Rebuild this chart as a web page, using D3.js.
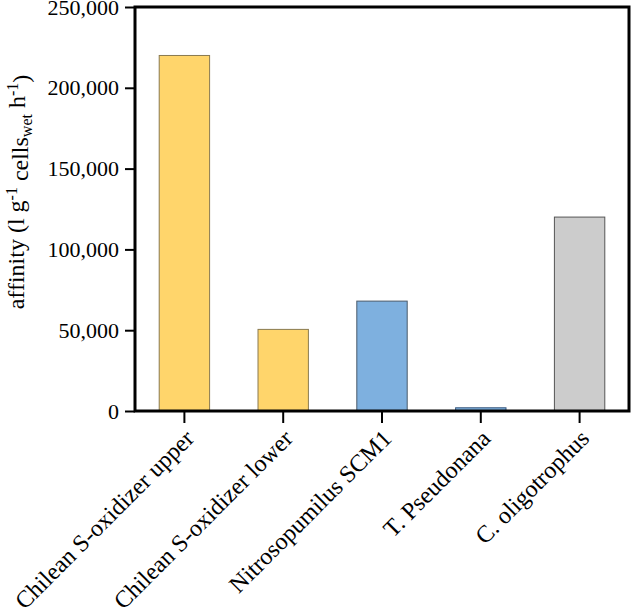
<!DOCTYPE html>
<html>
<head>
<meta charset="utf-8">
<script src="https://cdn.jsdelivr.net/npm/d3@7"></script>
<style>
  html, body { margin: 0; padding: 0; background: #fff; }
  svg { display: block; }
  text { font-family: "Liberation Serif", "Times New Roman", serif; fill: #000; }
</style>
</head>
<body>
<svg id="chart" width="633" height="609"></svg>
<script>
const categories = ["Chilean S-oxidizer upper", "Chilean S-oxidizer lower", "Nitrosopumilus SCM1", "T. Pseudonana", "C. oligotrophus"];
const values = [220000, 50500, 68000, 2000, 120000];
const fills = ["#FFD56B", "#FFD56B", "#7EB0DF", "#7EB0DF", "#CCCCCC"];
const strokes = ["#8a7a50", "#8a7a50", "#4a5a6a", "#3a5a80", "#555555"];
const yTicks = [0, 50000, 100000, 150000, 200000, 250000];

const svg = d3.select("#chart");
const m = { left: 135, right: 629, top: 7, bottom: 411 };

const x = d3.scaleBand().domain(categories).range([m.left, m.right]).paddingInner(0.49).paddingOuter(0.245);
const y = d3.scaleLinear().domain([0, 250000]).range([m.bottom, m.top]);

// bars
svg.append("g").selectAll("rect").data(categories).join("rect")
  .attr("x", d => x(d))
  .attr("width", x.bandwidth())
  .attr("y", (d, i) => y(values[i]))
  .attr("height", (d, i) => y(0) - y(values[i]))
  .attr("fill", (d, i) => fills[i])
  .attr("stroke", (d, i) => strokes[i])
  .attr("stroke-width", 1);

// frame
svg.append("rect")
  .attr("x", m.left).attr("y", m.top)
  .attr("width", m.right - m.left).attr("height", m.bottom - m.top)
  .attr("fill", "none").attr("stroke", "#000").attr("stroke-width", 3);

// y axis
const yAxis = d3.axisLeft(y).tickValues(yTicks).tickSize(10).tickPadding(6)
  .tickFormat(d3.format(","));
const gy = svg.append("g").attr("transform", `translate(${m.left},0)`).call(yAxis);
gy.select(".domain").remove();
gy.selectAll(".tick line").attr("stroke", "#000").attr("stroke-width", 2);
gy.selectAll(".tick text").style("font-size", "22px").style("font-family", "Liberation Serif, serif");

// x axis
const xAxis = d3.axisBottom(x).tickSize(12).tickFormat("");
const gx = svg.append("g").attr("transform", `translate(0,${m.bottom})`).call(xAxis);
gx.select(".domain").remove();
gx.selectAll(".tick line").attr("stroke", "#000").attr("stroke-width", 2);

// x labels
svg.append("g").selectAll("text").data(categories).join("text")
  .attr("transform", d => `translate(${x(d) + x.bandwidth() / 2 + 5},${m.bottom + 23}) rotate(-45)`)
  .attr("text-anchor", "end")
  .attr("dy", "0.35em")
  .style("font-size", "24px")
  .text(d => d);

// y label
const yl = svg.append("text")
  .attr("transform", "translate(24,192) rotate(-90)")
  .attr("text-anchor", "middle")
  .style("font-size", "24px");
yl.append("tspan").text("affinity (l g");
yl.append("tspan").attr("dy", "-0.45em").style("font-size", "16px").text("-1");
yl.append("tspan").attr("dy", "0.45em").text(" cells");
yl.append("tspan").attr("dy", "0.3em").style("font-size", "16px").text("wet");
yl.append("tspan").attr("dy", "-0.3em").text(" h");
yl.append("tspan").attr("dy", "-0.45em").style("font-size", "16px").text("-1");
yl.append("tspan").attr("dy", "0.45em").text(")");
</script>
</body>
</html>
